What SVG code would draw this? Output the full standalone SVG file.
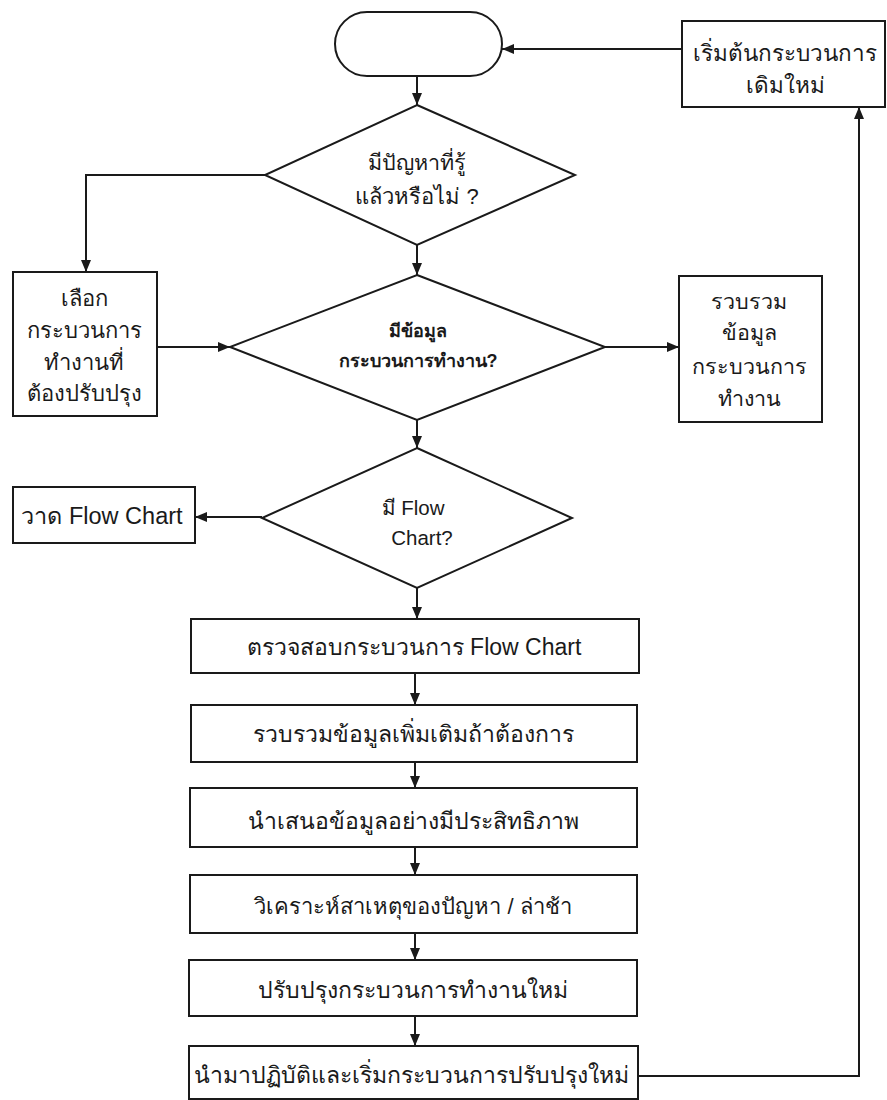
<svg xmlns="http://www.w3.org/2000/svg" width="887" height="1100" viewBox="0 0 887 1100">
<defs>
<marker id="arr" markerUnits="userSpaceOnUse" markerWidth="12" markerHeight="10" refX="12" refY="5" orient="auto">
<path d="M0,0 L12,5 L0,10 z" fill="#1a1a1a"/>
</marker>
<style>
.s{fill:#fff;stroke:#1a1a1a;stroke-width:2}
.c{fill:none;stroke:#1a1a1a;stroke-width:2;marker-end:url(#arr)}
.t{font-family:"Liberation Sans","Noto Sans",sans-serif;fill:#1a1a1a;text-anchor:middle;dominant-baseline:central}
.m{font-size:23px}
</style>
</defs>
<rect width="887" height="1100" fill="#fff"/>
<g id="connectors">
<path class="c" d="M417,76 L417,105"/>
<path class="c" d="M265,175 L86,175 L86,272"/>
<path class="c" d="M417,245 L417,275"/>
<path class="c" d="M157,347 L230,347"/>
<path class="c" d="M605,347 L679,347"/>
<path class="c" d="M417,420 L417,448"/>
<path class="c" d="M262,517 L195,517"/>
<path class="c" d="M417,588 L417,619"/>
<path class="c" d="M415,673 L415,705"/>
<path class="c" d="M415,762 L415,788"/>
<path class="c" d="M415,847 L415,875"/>
<path class="c" d="M415,933 L415,960"/>
<path class="c" d="M415,1016 L415,1046"/>
<path class="c" d="M638,1076 L859,1076 L859,107"/>
<path class="c" d="M682,49 L502,49"/>
</g>
<g id="start"><rect class="s" x="335" y="12" width="167" height="64" rx="32" ry="32"/></g>
<g id="restart"><rect class="s" x="682" y="21" width="203" height="86"/>
<text class="t" x="785" y="53" font-size="22.5">เริ่มต้นกระบวนการ</text>
<text class="t" x="785" y="85" font-size="22.5">เดิมใหม่</text></g>
<g id="d1"><polygon class="s" points="417,105 575,175 417,245 265,175"/>
<text class="t" x="417" y="163" font-size="21.5">มีปัญหาที่รู้</text>
<text class="t" x="417" y="196" font-size="22">แล้วหรือไม่ ?</text></g>
<g id="select"><rect class="s" x="13" y="272" width="144" height="144"/>
<text class="t" x="84" y="298" font-size="22">เลือก</text>
<text class="t" x="84" y="330" font-size="22">กระบวนการ</text>
<text class="t" x="84" y="362" font-size="22">ทำงานที่</text>
<text class="t" x="84" y="393" font-size="22">ต้องปรับปรุง</text></g>
<g id="d2"><polygon class="s" points="417,275 605,347 417,420 230,347"/>
<text class="t" x="418" y="331" font-size="18" font-weight="bold">มีข้อมูล</text>
<text class="t" x="418" y="361" font-size="18" font-weight="bold">กระบวนการทำงาน?</text></g>
<g id="collect"><rect class="s" x="679" y="276" width="143" height="146"/>
<text class="t" x="749" y="302" font-size="21.5">รวบรวม</text>
<text class="t" x="749" y="333" font-size="21.5">ข้อมูล</text>
<text class="t" x="749" y="367" font-size="21.5">กระบวนการ</text>
<text class="t" x="749" y="399" font-size="21.5">ทำงาน</text></g>
<g id="d3"><polygon class="s" points="417,448 572,518 417,588 262,518"/>
<text class="t" x="413" y="507" font-size="20.5">มี Flow</text>
<text class="t" x="422" y="537" font-size="20.5">Chart?</text></g>
<g id="draw"><rect class="s" x="13" y="487" width="182" height="56"/>
<text class="t" x="102" y="516" font-size="23.5">วาด Flow Chart</text></g>
<g id="b1"><rect class="s" x="191" y="619" width="448" height="54"/>
<text class="t m" x="414" y="647">ตรวจสอบกระบวนการ Flow Chart</text></g>
<g id="b2"><rect class="s" x="191" y="705" width="446" height="57"/>
<text class="t m" x="413" y="734">รวบรวมข้อมูลเพิ่มเติมถ้าต้องการ</text></g>
<g id="b3"><rect class="s" x="190" y="788" width="447" height="59"/>
<text class="t m" x="413" y="821">นำเสนอข้อมูลอย่างมีประสิทธิภาพ</text></g>
<g id="b4"><rect class="s" x="190" y="875" width="447" height="58"/>
<text class="t" x="413" y="906" font-size="22">วิเคราะห์สาเหตุของปัญหา / ล่าช้า</text></g>
<g id="b5"><rect class="s" x="189" y="960" width="448" height="56"/>
<text class="t m" x="413" y="990">ปรับปรุงกระบวนการทำงานใหม่</text></g>
<g id="b6"><rect class="s" x="189" y="1046" width="449" height="53"/>
<text class="t m" x="411" y="1075">นำมาปฏิบัติและเริ่มกระบวนการปรับปรุงใหม่</text></g>
</svg>
